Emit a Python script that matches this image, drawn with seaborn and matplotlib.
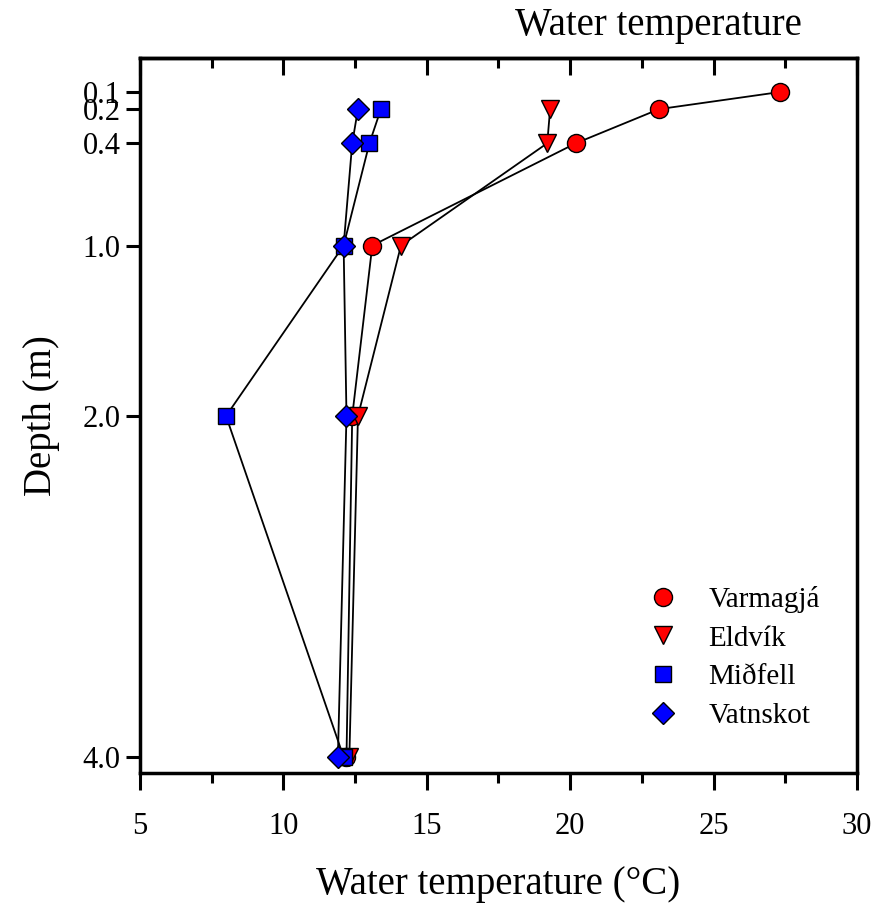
import seaborn as sns
import matplotlib.pyplot as plt
import pandas as pd
from matplotlib.lines import Line2D
from matplotlib.ticker import MultipleLocator

# depth profiles, temperature in degC
sites = ["Varmagjá", "Eldvík", "Miðfell", "Vatnskot"]
depth_varmagja = [0.1, 0.2, 0.4, 1.0, 2.0, 4.0]
temp_varmagja = [27.3, 23.1, 20.2, 13.1, 12.4, 12.2]
depth_other = [0.2, 0.4, 1.0, 2.0, 4.0]
temp_eldvik = [19.3, 19.2, 14.1, 12.6, 12.3]
temp_midfell = [13.4, 13.0, 12.1, 8.0, 12.1]
temp_vatnskot = [12.6, 12.4, 12.1, 12.2, 11.9]
depth_ticks = [0.1, 0.2, 0.4, 1.0, 2.0, 4.0]

profiles = {
    "Varmagjá": (temp_varmagja, depth_varmagja),
    "Eldvík": (temp_eldvik, depth_other),
    "Miðfell": (temp_midfell, depth_other),
    "Vatnskot": (temp_vatnskot, depth_other),
}
styles = {
    "Varmagjá": dict(marker="o", mfc="#ff0000", ms=13),
    "Eldvík": dict(marker="v", mfc="#ff0000", ms=13),
    "Miðfell": dict(marker="s", mfc="#0000ff", ms=12),
    "Vatnskot": dict(marker="D", mfc="#0000ff", ms=11),
}

sns.set_theme(style="ticks")
plt.rcParams["font.family"] = ["Liberation Serif", "DejaVu Serif"]
plt.rcParams["text.color"] = "black"
plt.rcParams["axes.labelcolor"] = "black"

fig = plt.figure(figsize=(8.75, 9.13), dpi=100)
ax = fig.add_axes([0.16, 0.1533, 0.8194, 0.7832])

for site in sites:
    temps, depths = profiles[site]
    df = pd.DataFrame({"temp": temps, "depth": depths})
    st = styles[site]
    sns.lineplot(data=df, x="temp", y="depth", sort=False, estimator=None,
                 color="black", linewidth=1.3, marker=st["marker"],
                 markersize=st["ms"], markerfacecolor=st["mfc"],
                 markeredgecolor="black", markeredgewidth=1.0, ax=ax)

ax.set_xlim(5, 30)
ax.set_ylim(4.094, -0.1)
ax.set_yticks(depth_ticks)
ax.set_yticklabels([f"{d:.1f}" for d in depth_ticks])
ax.xaxis.set_major_locator(MultipleLocator(5))
ax.xaxis.set_minor_locator(MultipleLocator(2.5))

for sp in ax.spines.values():
    sp.set_linewidth(2.5)
    sp.set_color("black")

ax.tick_params(axis="x", which="major", direction="out", length=12, width=2.2,
               labelsize=22, pad=16, colors="black")
ax.tick_params(axis="x", which="minor", direction="out", length=7, width=2.2,
               colors="black")
ax.tick_params(axis="y", which="major", direction="out", length=10, width=2.2,
               labelsize=22, pad=4, colors="black")

top = ax.secondary_xaxis("top")
top.xaxis.set_major_locator(MultipleLocator(5))
top.xaxis.set_minor_locator(MultipleLocator(2.5))
top.tick_params(axis="x", which="major", direction="in", length=12, width=2.2,
                labeltop=False, colors="black")
top.tick_params(axis="x", which="minor", direction="in", length=7, width=2.2,
                colors="black")
top.spines["top"].set_linewidth(2.5)
top.spines["top"].set_color("black")

ax.set_xlabel("Water temperature (°C)", fontsize=28, labelpad=18)
ax.set_ylabel("Depth (m)", fontsize=28, labelpad=16)
fig.text(0.753, 0.972, "Water temperature", ha="center", va="center", fontsize=28)

handles = [Line2D([], [], linestyle="none", marker=styles[s]["marker"],
                  markersize=styles[s]["ms"], markerfacecolor=styles[s]["mfc"],
                  markeredgecolor="black", markeredgewidth=1.0) for s in sites]
ax.legend(handles, sites, loc="lower right", frameon=False, fontsize=21,
          bbox_to_anchor=(0.985, 0.025), handletextpad=0.8, labelspacing=0.42,
          borderaxespad=0.5, handlelength=1.5)

fig.savefig("out.png", dpi=100)
